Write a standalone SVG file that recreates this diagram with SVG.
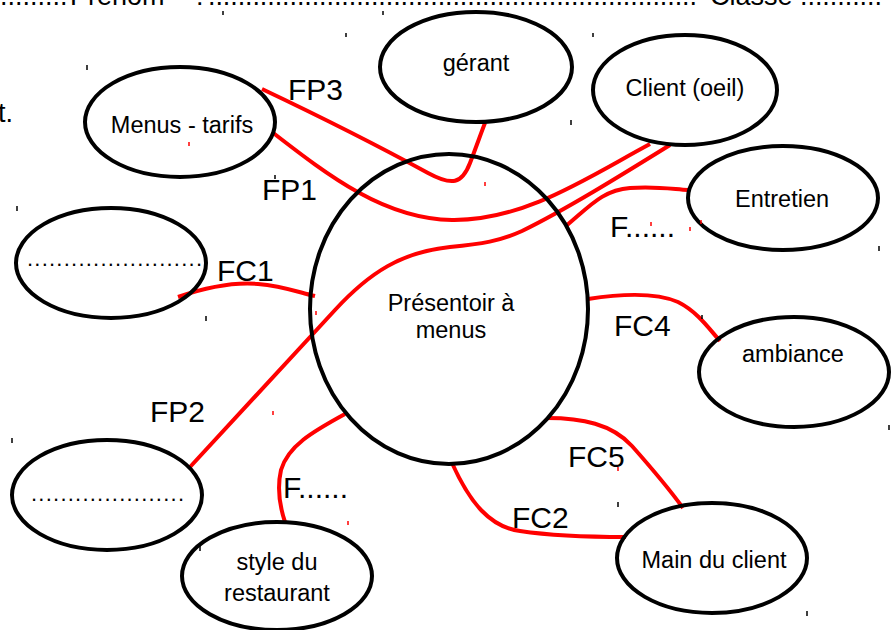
<svg xmlns="http://www.w3.org/2000/svg" width="896" height="630" viewBox="0 0 896 630">
<style>
.node{fill:none;stroke:#000;stroke-width:4}
.nt{font-family:"Liberation Sans",Arial,sans-serif;font-size:23.5px;fill:#000;text-anchor:middle}
.lbl{font-family:"Liberation Sans",Arial,sans-serif;font-size:30px;fill:#000}
.top{font-family:"Liberation Sans",Arial,sans-serif;font-size:27px;fill:#000}
.con{fill:none;stroke:#f00;stroke-width:4;stroke-linecap:butt}
.tick{stroke:#000;stroke-width:1.5}
.rtick{stroke:#f00;stroke-width:1.5}
</style>
<rect width="896" height="630" fill="#fff"/>
<g id="header">
<text class="top" x="0" y="5">.........</text>
<text class="top" x="70" y="5">Prénom</text>
<text class="top" x="196" y="5">:</text>
<text class="top" x="208" y="5" textLength="489" lengthAdjust="spacing">..................................................................</text>
<text class="top" x="710" y="5">Classe</text>
<text class="top" x="800" y="5" textLength="82" lengthAdjust="spacing">...........</text>
<text class="top" x="-2" y="122">t.</text>
</g>
<g id="connectors">
<path class="con" d="M262,89 C340,126 395,155 428,173 C452,186 462,184 470,163 C477,145 481,133 485,123"/>
<path class="con" d="M272,132 C330,177 385,219 452,220 C525,221 590,176 650,144"/>
<path class="con" d="M190,467 L335,310 C370,272 402,252 450,247 C482,244 500,241 522,231 C565,210 620,176 670,145"/>
<path class="con" d="M566,226 C590,206 603,190 630,188 C655,186 672,189 688,190"/>
<path class="con" d="M178,297 C210,286 235,282 258,284 C282,286 298,292 315,296"/>
<path class="con" d="M588,299 C620,294 655,292 678,302 C698,312 710,330 720,341"/>
<path class="con" d="M547,418 C582,418 612,424 632,446 C655,472 670,490 683,508"/>
<path class="con" d="M452,463 C470,503 490,527 520,531 C560,537 600,537 626,537"/>
<path class="con" d="M345,414 C312,432 288,446 281,470 C276,492 281,510 285,522"/>
</g>
<g id="center">
<ellipse class="node" cx="449" cy="309" rx="139" ry="155"/>
<text class="nt" x="451" y="311">Présentoir à</text>
<text class="nt" x="451" y="338">menus</text>
</g>
<g id="gerant">
<ellipse class="node" cx="476" cy="67" rx="96" ry="55"/>
<text class="nt" x="476" y="71">gérant</text>
</g>
<g id="client">
<ellipse class="node" cx="685" cy="90" rx="92" ry="55"/>
<text class="nt" x="685" y="96">Client (oeil)</text>
</g>
<g id="menus">
<ellipse class="node" cx="180" cy="122" rx="95" ry="55"/>
<text class="nt" x="182" y="133">Menus - tarifs</text>
</g>
<g id="entretien">
<ellipse class="node" cx="783" cy="198" rx="95" ry="52"/>
<text class="nt" x="782" y="207">Entretien</text>
</g>
<g id="ambiance">
<ellipse class="node" cx="794" cy="372" rx="95" ry="55"/>
<text class="nt" x="793" y="362">ambiance</text>
</g>
<g id="main-client">
<ellipse class="node" cx="712" cy="558" rx="95" ry="55"/>
<text class="nt" x="714" y="568">Main du client</text>
</g>
<g id="style">
<ellipse class="node" cx="277" cy="576" rx="95" ry="54"/>
<text class="nt" x="277" y="570">style du</text>
<text class="nt" x="277" y="601">restaurant</text>
</g>
<g id="blank-left">
<ellipse class="node" cx="111" cy="263" rx="95" ry="55"/>
<text class="top" x="27" y="266" textLength="175" lengthAdjust="spacing" style="font-size:22px">........................</text>
</g>
<g id="blank-bottom">
<ellipse class="node" cx="107" cy="495" rx="95" ry="55"/>
<text class="top" x="31" y="501" textLength="153" lengthAdjust="spacing" style="font-size:22px">.....................</text>
</g>
<g id="labels">
<text class="lbl" x="288" y="100">FP3</text>
<text class="lbl" x="262" y="200">FP1</text>
<text class="lbl" x="217" y="281">FC1</text>
<text class="lbl" x="150" y="422">FP2</text>
<text class="lbl" x="283" y="498">F......</text>
<text class="lbl" x="568" y="467">FC5</text>
<text class="lbl" x="512" y="528">FC2</text>
<text class="lbl" x="614" y="336">FC4</text>
<text class="lbl" x="610" y="237">F......</text>
</g>
<g id="ticks">
<path class="tick" d="M223,11v4M383,11v4M346,33v4M593,33v4M87,65v5M17,206v5M571,120v5M206,316v5M12,438v5M200,546v5M618,502v5M889,425v5M807,611v5M879,246v5M702,315v4M275,175v4"/>
<path class="rtick" d="M189,142v4M485,182v4M273,411v4M348,521v4M618,467v4M701,220v4M690,227v4M316,311v4M651,222v4"/>
</g>
</svg>
